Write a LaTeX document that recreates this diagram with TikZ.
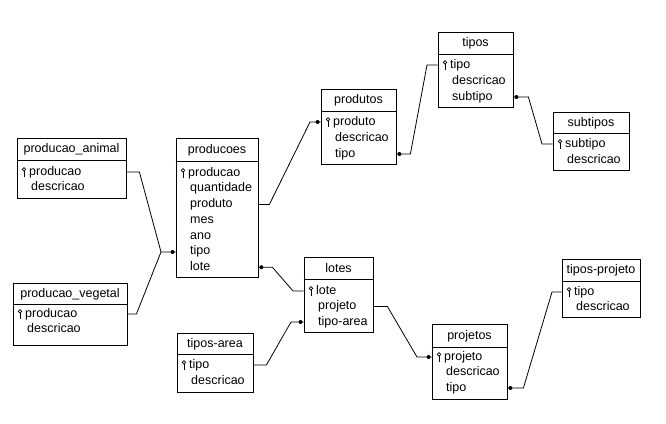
\documentclass[tikz,border=0pt]{standalone}
\usepackage{fontspec}
\setmainfont{Liberation Sans}
\usetikzlibrary{fit}
\tikzset{
 ent/.style={draw, inner sep=0pt, line width=0.8pt},
 ttl/.style={inner sep=0pt, font=\fontsize{12.5}{14}\selectfont},
 attr/.style={anchor=west, inner sep=0pt, text height=9pt, text depth=2.5pt, font=\fontsize{12.5}{14}\selectfont},
 rel/.style={line width=0.8pt},
 dot/.style={circle, fill, inner sep=0pt, minimum size=4pt},
 pics/keyic/.style={code={\draw[line width=0.75pt] (0,-2.6) circle (1.8); \draw[line width=0.75pt] (0,-0.8) -- (0,4) -- (1.4,4);}}
}
\newcommand\ent[7]{%
 \coordinate (#1-nw) at (#2,#3); \coordinate (#1-se) at (#4,#6);
 \node[ent, fit=(#1-nw)(#1-se)] (#1) {};
 \draw[line width=0.8pt] (#1.west |- 0,#5) -- (#1.east |- 0,#5);
 \node[ttl] (#1-t) at ({(#2+#4)/2},{(#3+#5)/2+0.5}) {#7};
}
\newcommand\keyrow[4]{\pic at (#2+7,#3) {keyic}; \node[attr] (#1) at (#2+12,#3) {#4};}
\newcommand\attrow[4]{\node[attr] (#1) at (#2+14,#3) {#4};}
\begin{document}
\begin{tikzpicture}[x=1pt,y=-1pt]
\useasboundingbox (0,0) rectangle (666,423);
% producao_animal
\ent{panim}{17}{138}{126}{160}{198}{producao\_animal}
\keyrow{pa1}{17}{172}{producao}
\attrow{pa2}{17}{187.5}{descricao}
% producao_vegetal
\ent{pveg}{13}{283}{127}{304}{345}{producao\_vegetal}
\keyrow{pv1}{13}{314}{producao}
\attrow{pv2}{13}{329.5}{descricao}
% producoes
\ent{producoes}{176}{138}{258}{161}{277}{producoes}
\keyrow{pr1}{176}{173}{producao}
\attrow{pr2}{176}{188.7}{quantidade}
\attrow{pr3}{176}{204.4}{produto}
\attrow{pr4}{176}{220.1}{mes}
\attrow{pr5}{176}{235.8}{ano}
\attrow{pr6}{176}{251.5}{tipo}
\attrow{pr7}{176}{267.2}{lote}
% produtos
\ent{produtos}{321}{89}{396}{111}{164}{produtos}
\keyrow{pd1}{321}{122}{produto}
\attrow{pd2}{321}{138}{descricao}
\attrow{pd3}{321}{154}{tipo}
% tipos
\ent{tipos}{438}{32}{513}{54}{107}{tipos}
\keyrow{tp1}{438}{65}{tipo}
\attrow{tp2}{438}{81}{descricao}
\attrow{tp3}{438}{97}{subtipo}
% subtipos
\ent{subtipos}{553}{112}{629}{133}{170}{subtipos}
\keyrow{st1}{553}{144}{subtipo}
\attrow{st2}{553}{160}{descricao}
% lotes
\ent{lotes}{304}{257}{373}{279}{332}{lotes}
\keyrow{lt1}{304}{291}{lote}
\attrow{lt2}{304}{306.5}{projeto}
\attrow{lt3}{304}{322}{tipo-area}
% tipos-area
\ent{tiposarea}{177}{333}{253}{354}{392}{tipos-area}
\keyrow{ta1}{177}{365}{tipo}
\attrow{ta2}{177}{381}{descricao}
% projetos
\ent{projetos}{432}{324}{507}{347}{399}{projetos}
\keyrow{pj1}{432}{357}{projeto}
\attrow{pj2}{432}{372.5}{descricao}
\attrow{pj3}{432}{388}{tipo}
% tipos-projeto
\ent{tiposprojeto}{562}{259}{640}{281}{317}{tipos-projeto}
\keyrow{tq1}{562}{292}{tipo}
\attrow{tq2}{562}{307.5}{descricao}
% connectors
\coordinate (j1) at (161,252);
\draw[rel] (panim.east |- pa1) -- ++(13,0) -- (j1) -- (producoes.west |- j1);
\draw[rel] (pveg.east |- pv1) -- ++(9,0) -- (j1);
\node[dot] (d1) at ([xshift=-3pt]producoes.west |- j1) {};
\coordinate (b2) at (310,122);
\draw[rel] (producoes.east |- pr3) -- ++(11,0) -- (b2) -- (produtos.west |- pd1);
\node[dot] (d2) at ([xshift=-3pt]produtos.west |- pd1) {};
\coordinate (b3) at (427,65);
\draw[rel] (produtos.east |- pd3) -- ++(14,0) -- (b3) -- (tipos.west |- tp1);
\node[dot] (d3) at ([xshift=3pt]produtos.east |- pd3) {};
\coordinate (b4) at (542,144);
\draw[rel] (tipos.east |- tp3) -- ++(15,0) -- (b4) -- (subtipos.west |- st1);
\node[dot] (d4) at ([xshift=3pt]tipos.east |- tp3) {};
\coordinate (b5) at (293,291);
\draw[rel] (producoes.east |- pr7) -- ++(14,0) -- (b5) -- (lotes.west |- lt1);
\node[dot] (d5) at ([xshift=3pt]producoes.east |- pr7) {};
\coordinate (b6) at (291,322);
\draw[rel] (tiposarea.east |- ta1) -- ++(13,0) -- (b6) -- (lotes.west |- lt3);
\node[dot] (d6) at ([xshift=-3pt]lotes.west |- lt3) {};
\coordinate (b7) at (417,357);
\draw[rel] (lotes.east |- lt2) -- ++(14,0) -- (b7) -- (projetos.west |- pj1);
\node[dot] (d7) at ([xshift=-3pt]projetos.west |- pj1) {};
\coordinate (b8) at (552,292);
\draw[rel] (projetos.east |- pj3) -- ++(16,0) -- (b8) -- (tiposprojeto.west |- tq1);
\node[dot] (d8) at ([xshift=3pt]projetos.east |- pj3) {};
\end{tikzpicture}
\end{document}
